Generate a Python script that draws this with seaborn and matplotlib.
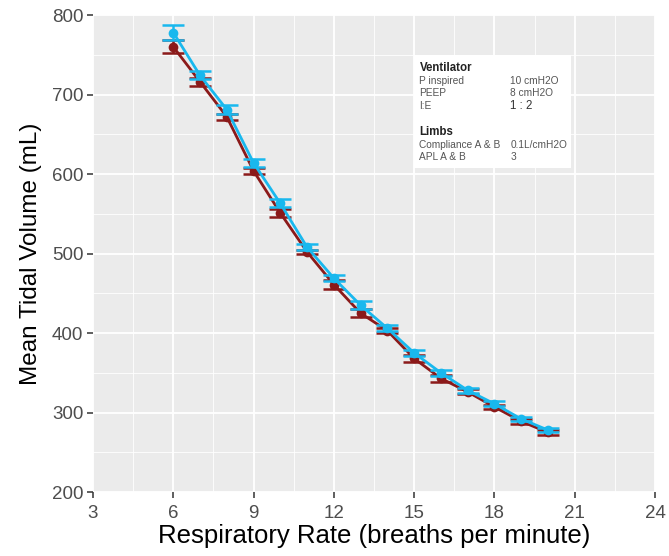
import numpy as np
import pandas as pd
import matplotlib
matplotlib.use("Agg")
import matplotlib.pyplot as plt
import seaborn as sns

# respiratory rate sweep, two limbs (A = blue, B = red)
rate = [6, 7, 8, 9, 10, 11, 12, 13, 14, 15, 16, 17, 18, 19, 20]
vol_a = [778, 724, 681, 614, 563, 508, 469, 435, 406, 375, 350, 328, 311, 292, 278]
err_a = [9, 5, 6, 5, 5, 4, 4, 5, 4, 4, 4, 3, 3, 3, 3]
vol_b = [760, 716, 672, 604, 551, 502, 461, 425, 403, 368, 343, 326, 307, 289, 275]
err_b = [8, 5, 4, 4, 5, 3, 6, 5, 3, 4, 4, 3, 3, 3, 3]

col_a = "#19B8EE"
col_b = "#8B1A1A"

sns.set_theme(style="darkgrid", rc={
    "axes.facecolor": "#EBEBEB",
    "grid.color": "white",
    "xtick.bottom": True, "ytick.left": True,
    "xtick.color": "#333333", "ytick.color": "#333333",
    "xtick.major.size": 4, "ytick.major.size": 4,
    "xtick.major.width": 1.1, "ytick.major.width": 1.1,
})
plt.rcParams["font.family"] = ["Liberation Sans", "DejaVu Sans"]

df = pd.DataFrame({
    "rate": rate * 2,
    "vol": vol_a + vol_b,
    "err": err_a + err_b,
    "limb": ["A"] * len(rate) + ["B"] * len(rate),
})

fig = plt.figure(figsize=(6.69, 5.56), dpi=100)
ax = fig.add_axes([0.139, 0.115, 0.840, 0.858])

for limb, c, z in [("B", col_b, 2), ("A", col_a, 3)]:
    d = df[df["limb"] == limb]
    ax.errorbar(d["rate"], d["vol"], yerr=d["err"], fmt="none", ecolor=c,
                elinewidth=1.8, capsize=8, capthick=1.8, zorder=z)
    sns.lineplot(data=d, x="rate", y="vol", color=c, lw=2, marker="o",
                 markersize=7, markeredgewidth=0, ax=ax, zorder=z)

ax.set_xlim(3, 24)
ax.set_ylim(200, 800)
ax.set_xticks(np.arange(3, 25, 3))
ax.set_yticks(np.arange(200, 801, 100))
ax.set_xticks(np.arange(4.5, 24, 3), minor=True)
ax.set_yticks(np.arange(250, 800, 100), minor=True)
ax.tick_params(which="minor", length=0)
ax.grid(which="major", color="white", lw=1.3)
ax.grid(which="minor", color="white", lw=0.6)
ax.tick_params(axis="both", labelsize=13.5, labelcolor="#4D4D4D", pad=3)
ax.tick_params(axis="x", pad=5)
for s in ax.spines.values():
    s.set_visible(False)

ax.set_xlabel("Respiratory Rate (breaths per minute)", fontsize=18.5, color="black", labelpad=2)
ax.set_ylabel("Mean Tidal Volume (mL)", fontsize=17.5, color="black", labelpad=7)

# settings box
ax.add_patch(plt.Rectangle((15, 607), 5.85, 143, facecolor="white", edgecolor="none", zorder=4))
tx, tx2 = 15.2, 18.6
ax.text(tx, 733, "Ventilator", fontsize=8.3, fontweight="bold", color="#222222", va="center", zorder=5)
rows1 = [("P inspired", "10 cmH2O", 717), ("PEEP", "8 cmH2O", 702), ("I:E", "1 : 2", 686)]
for i, (k, v, y) in enumerate(rows1):
    ax.text(tx, y, k, fontsize=7.3, color="#555555", va="center", zorder=5)
    ax.text(tx2, y, v, fontsize=7.3 if i < 2 else 8.3, color="#555555" if i < 2 else "#333333",
            va="center", zorder=5)
ax.text(tx, 653, "Limbs", fontsize=8.3, fontweight="bold", color="#222222", va="center", zorder=5)
rows2 = [("Compliance A & B", "0.1L/cmH2O", 637), ("APL A & B", "3", 621)]
for k, v, y in rows2:
    ax.text(tx, y, k, fontsize=7.3, color="#555555", va="center", zorder=5)
    ax.text(tx2, y, v, fontsize=7.3, color="#555555", va="center", zorder=5)

fig.savefig("out.png", dpi=100)
